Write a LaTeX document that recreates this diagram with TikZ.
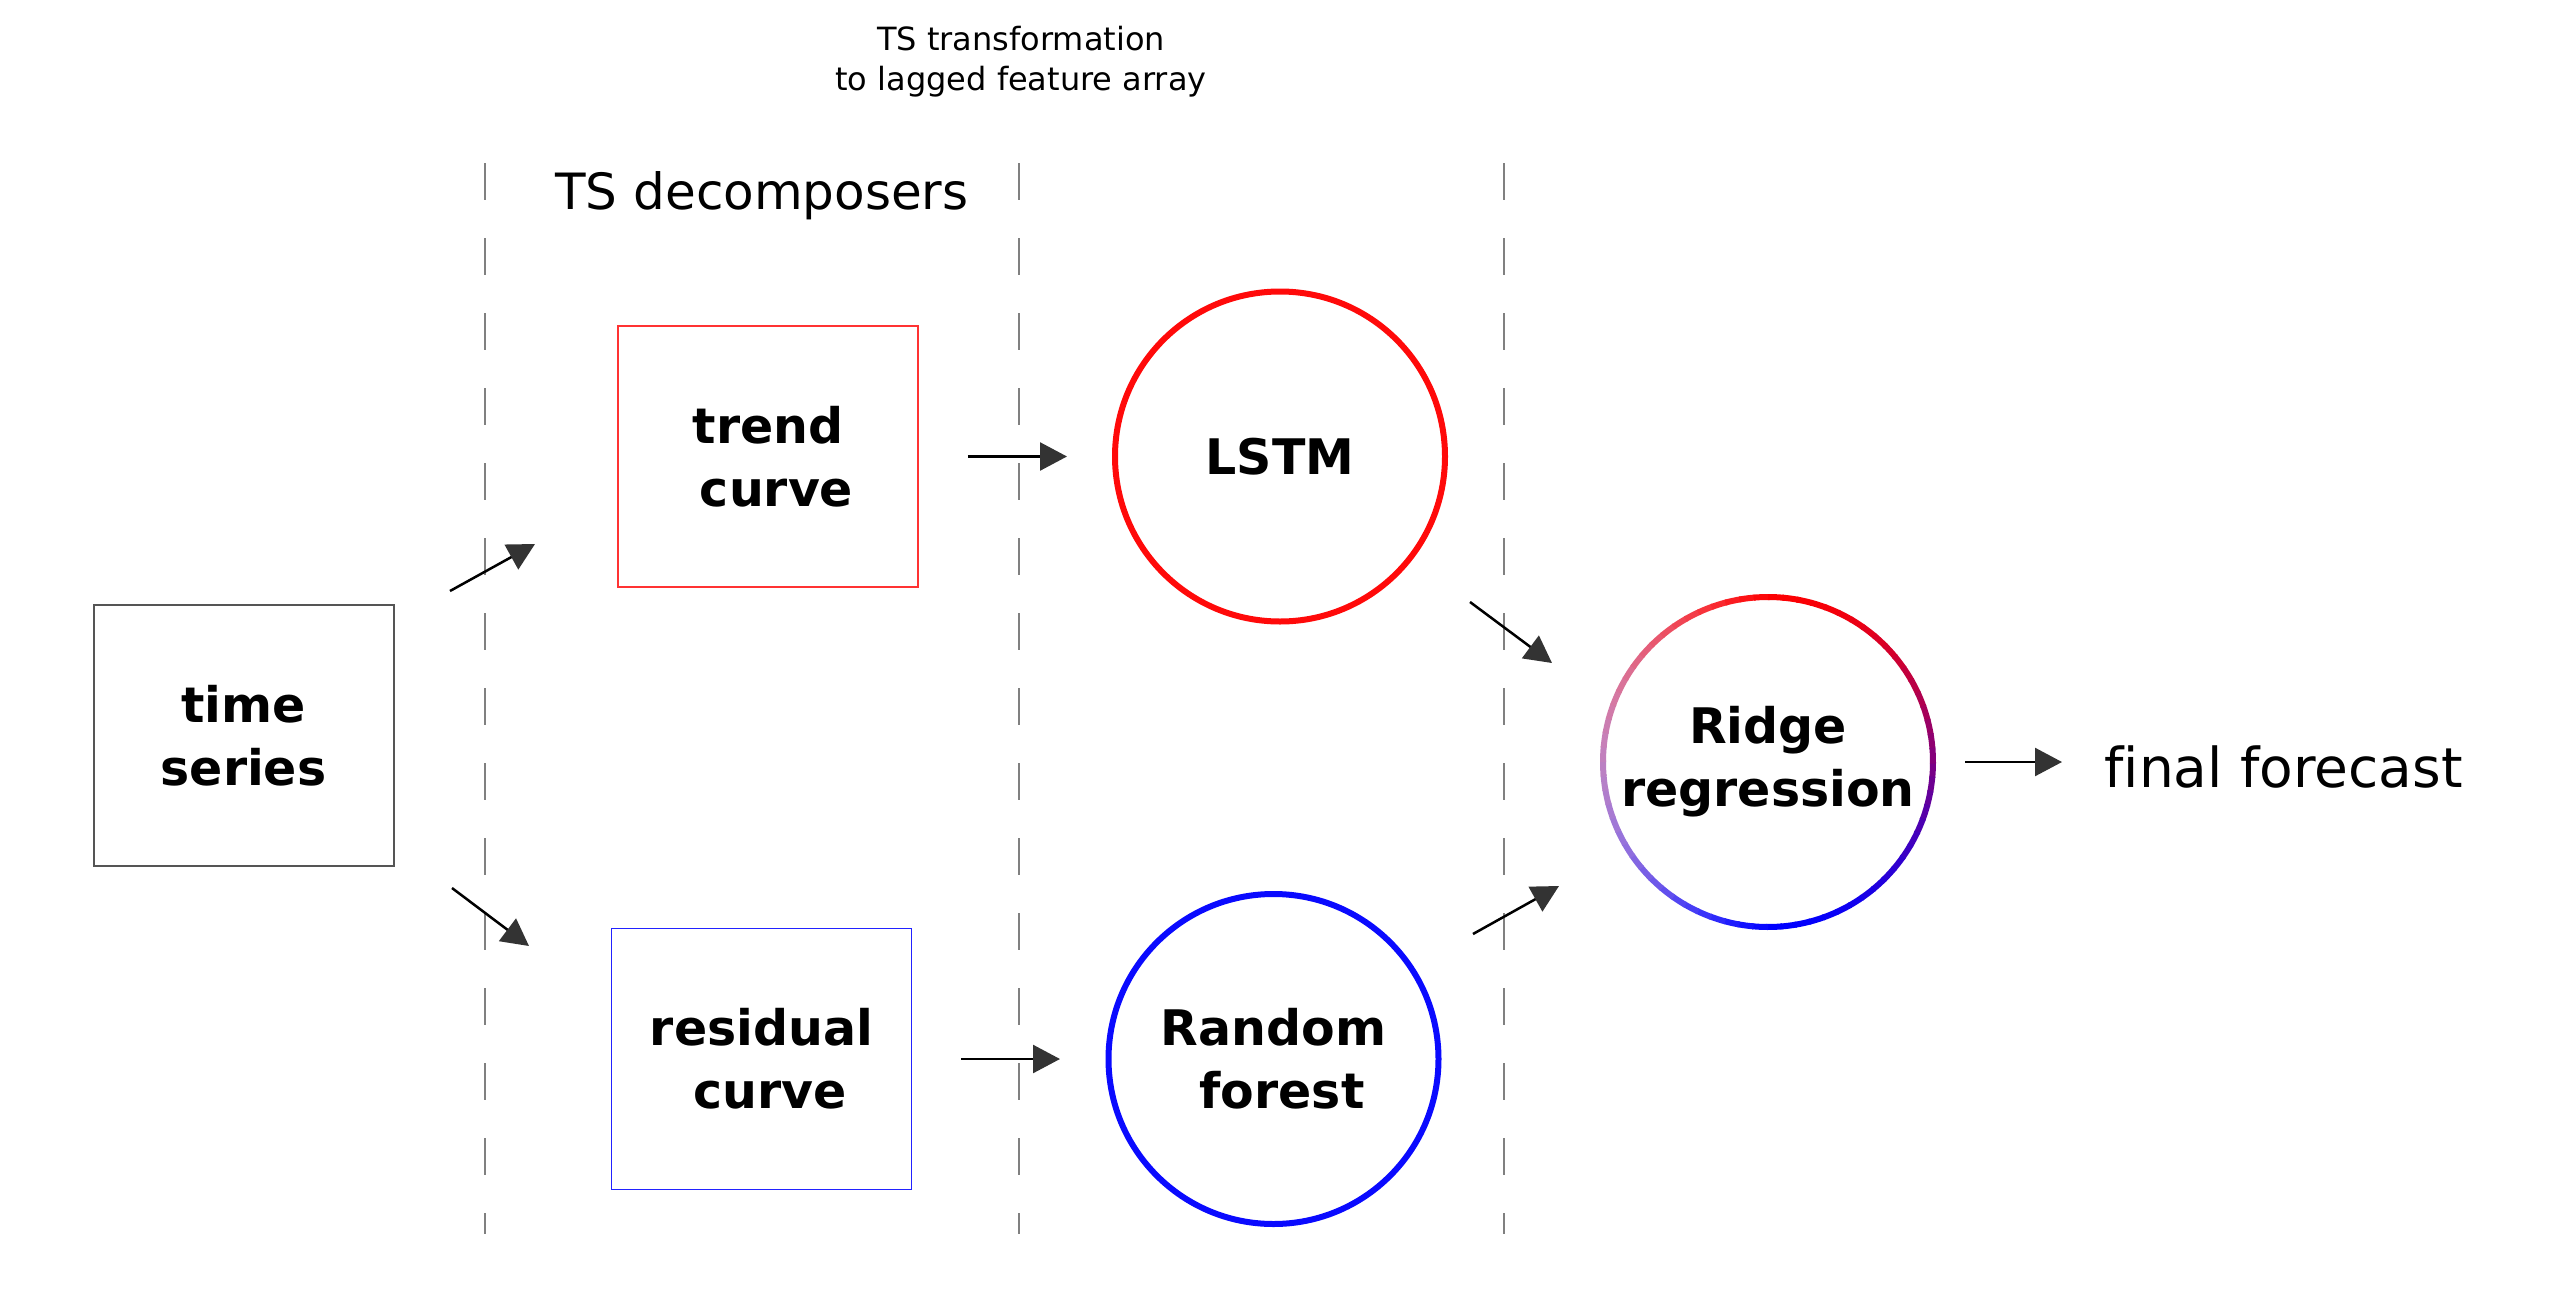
\documentclass[tikz,border=0pt]{standalone}
\usepackage{fontspec}
\setmainfont{DejaVu Sans}[Ligatures=NoCommon]
\usetikzlibrary{arrows.meta,calc}
\definecolor{tsgray}{HTML}{555555}
\definecolor{boxred}{HTML}{FF3333}
\definecolor{boxblue}{HTML}{2222FF}
\definecolor{ringred}{HTML}{FF0A0A}
\definecolor{ringblue}{HTML}{0A0AFF}
\definecolor{divgray}{HTML}{808080}
\definecolor{headgray}{HTML}{333333}
\begin{document}
\begin{tikzpicture}[x=0.5pt,y=-0.5pt,
  lbl/.style={font=\bfseries\fontsize{24.5}{31.5}\selectfont, align=center},
  plainbox/.style={rectangle, minimum width=150pt, minimum height=130.5pt, inner sep=0pt, lbl},
  tsbox/.style={plainbox, draw=tsgray, line width=1pt},
  redbox/.style={plainbox, draw=boxred, line width=0.75pt},
  bluebox/.style={plainbox, draw=boxblue, line width=0.75pt},
  ring/.style={circle, minimum size=165pt, inner sep=0pt, line width=3pt, lbl},
  arr/.style={line width=1.25pt, draw=black, -{Triangle[length=13.5pt,width=14pt,color=headgray]}},
  divider/.style={draw=divgray, line width=1.2pt, dash pattern=on 18.5pt off 19pt},
  plaintext/.style={inner sep=0pt}
]
\fill[white] (0,0) rectangle (2556,1307);
\useasboundingbox (0,0) rectangle (2556,1307);

% dividers
\draw[divider] (485,163) -- (485,1234);
\draw[divider] (1019,163) -- (1019,1234);
\draw[divider] (1504,163) -- (1504,1234);

% headings
\node[plaintext, align=center, font=\fontsize{16}{20}\selectfont] (toptxt) at (1021,62) {TS transformation\\to lagged feature array};
\node[plaintext, anchor=base, font=\fontsize{25}{30}\selectfont] (decomp) at (762,209) {TS decomposers};

% nodes
\node[tsbox] (ts) at (243.5,735.5) {time\\series};
\node[redbox] (trend) at (768,456.5) {trend\\\hspace*{0.35em}curve};
\node[bluebox] (resid) at (761.5,1059) {residual\\\hspace*{0.35em}curve};
\node[ring, draw=ringred] (lstm) at (1280,456.5) {LSTM};
\node[ring, draw=ringblue] (rf) at (1273.5,1059) {Random\\\hspace*{0.35em}forest};
\node[ring, outer sep=1.5pt] (ridge) at (1768,762) {Ridge\\regression};
\node[plaintext, anchor=base west, font=\fontsize{27.5}{33}\selectfont] (final) at (2104,787) {final forecast};

% gradient ring of ridge
\foreach \a in {0,5,...,355}{
  \pgfmathtruncatemacro{\rr}{100*(1-sin(\a+2.5))/2}
  \pgfmathtruncatemacro{\ww}{100-50*max(0,-cos(\a+2.5))}
  \colorlet{segc}{red!\rr!blue}
  \colorlet{segd}{segc!\ww!white}
  \draw[segd, line width=3pt] ($(ridge.center)+(\a:165)$) arc[start angle=\a, end angle=\a+5.6, radius=165];
}

% connectors
\coordinate (a1s) at (450,591);
\coordinate (a1e) at (535,544);
\coordinate (a2s) at (452,888);
\coordinate (a2e) at (529,946);
\coordinate (a3s) at (1470,602);
\coordinate (a3e) at (1552,663);
\coordinate (a4s) at (1473,934);
\coordinate (a4e) at (1559,886);
\draw[arr] (a1s) -- (a1e);
\draw[arr] (a2s) -- (a2e);
\draw[arr, shorten <=24.5pt, shorten >=22.5pt] (trend) -- (lstm);
\draw[arr, shorten <=24.5pt, shorten >=22.75pt] (resid) -- (rf);
\draw[arr] (a3s) -- (a3e);
\draw[arr] (a4s) -- (a4e);
\draw[arr, shorten <=14.5pt, shorten >=21pt] (ridge.east) -- (ridge.east -| final.west);
\end{tikzpicture}
\end{document}
